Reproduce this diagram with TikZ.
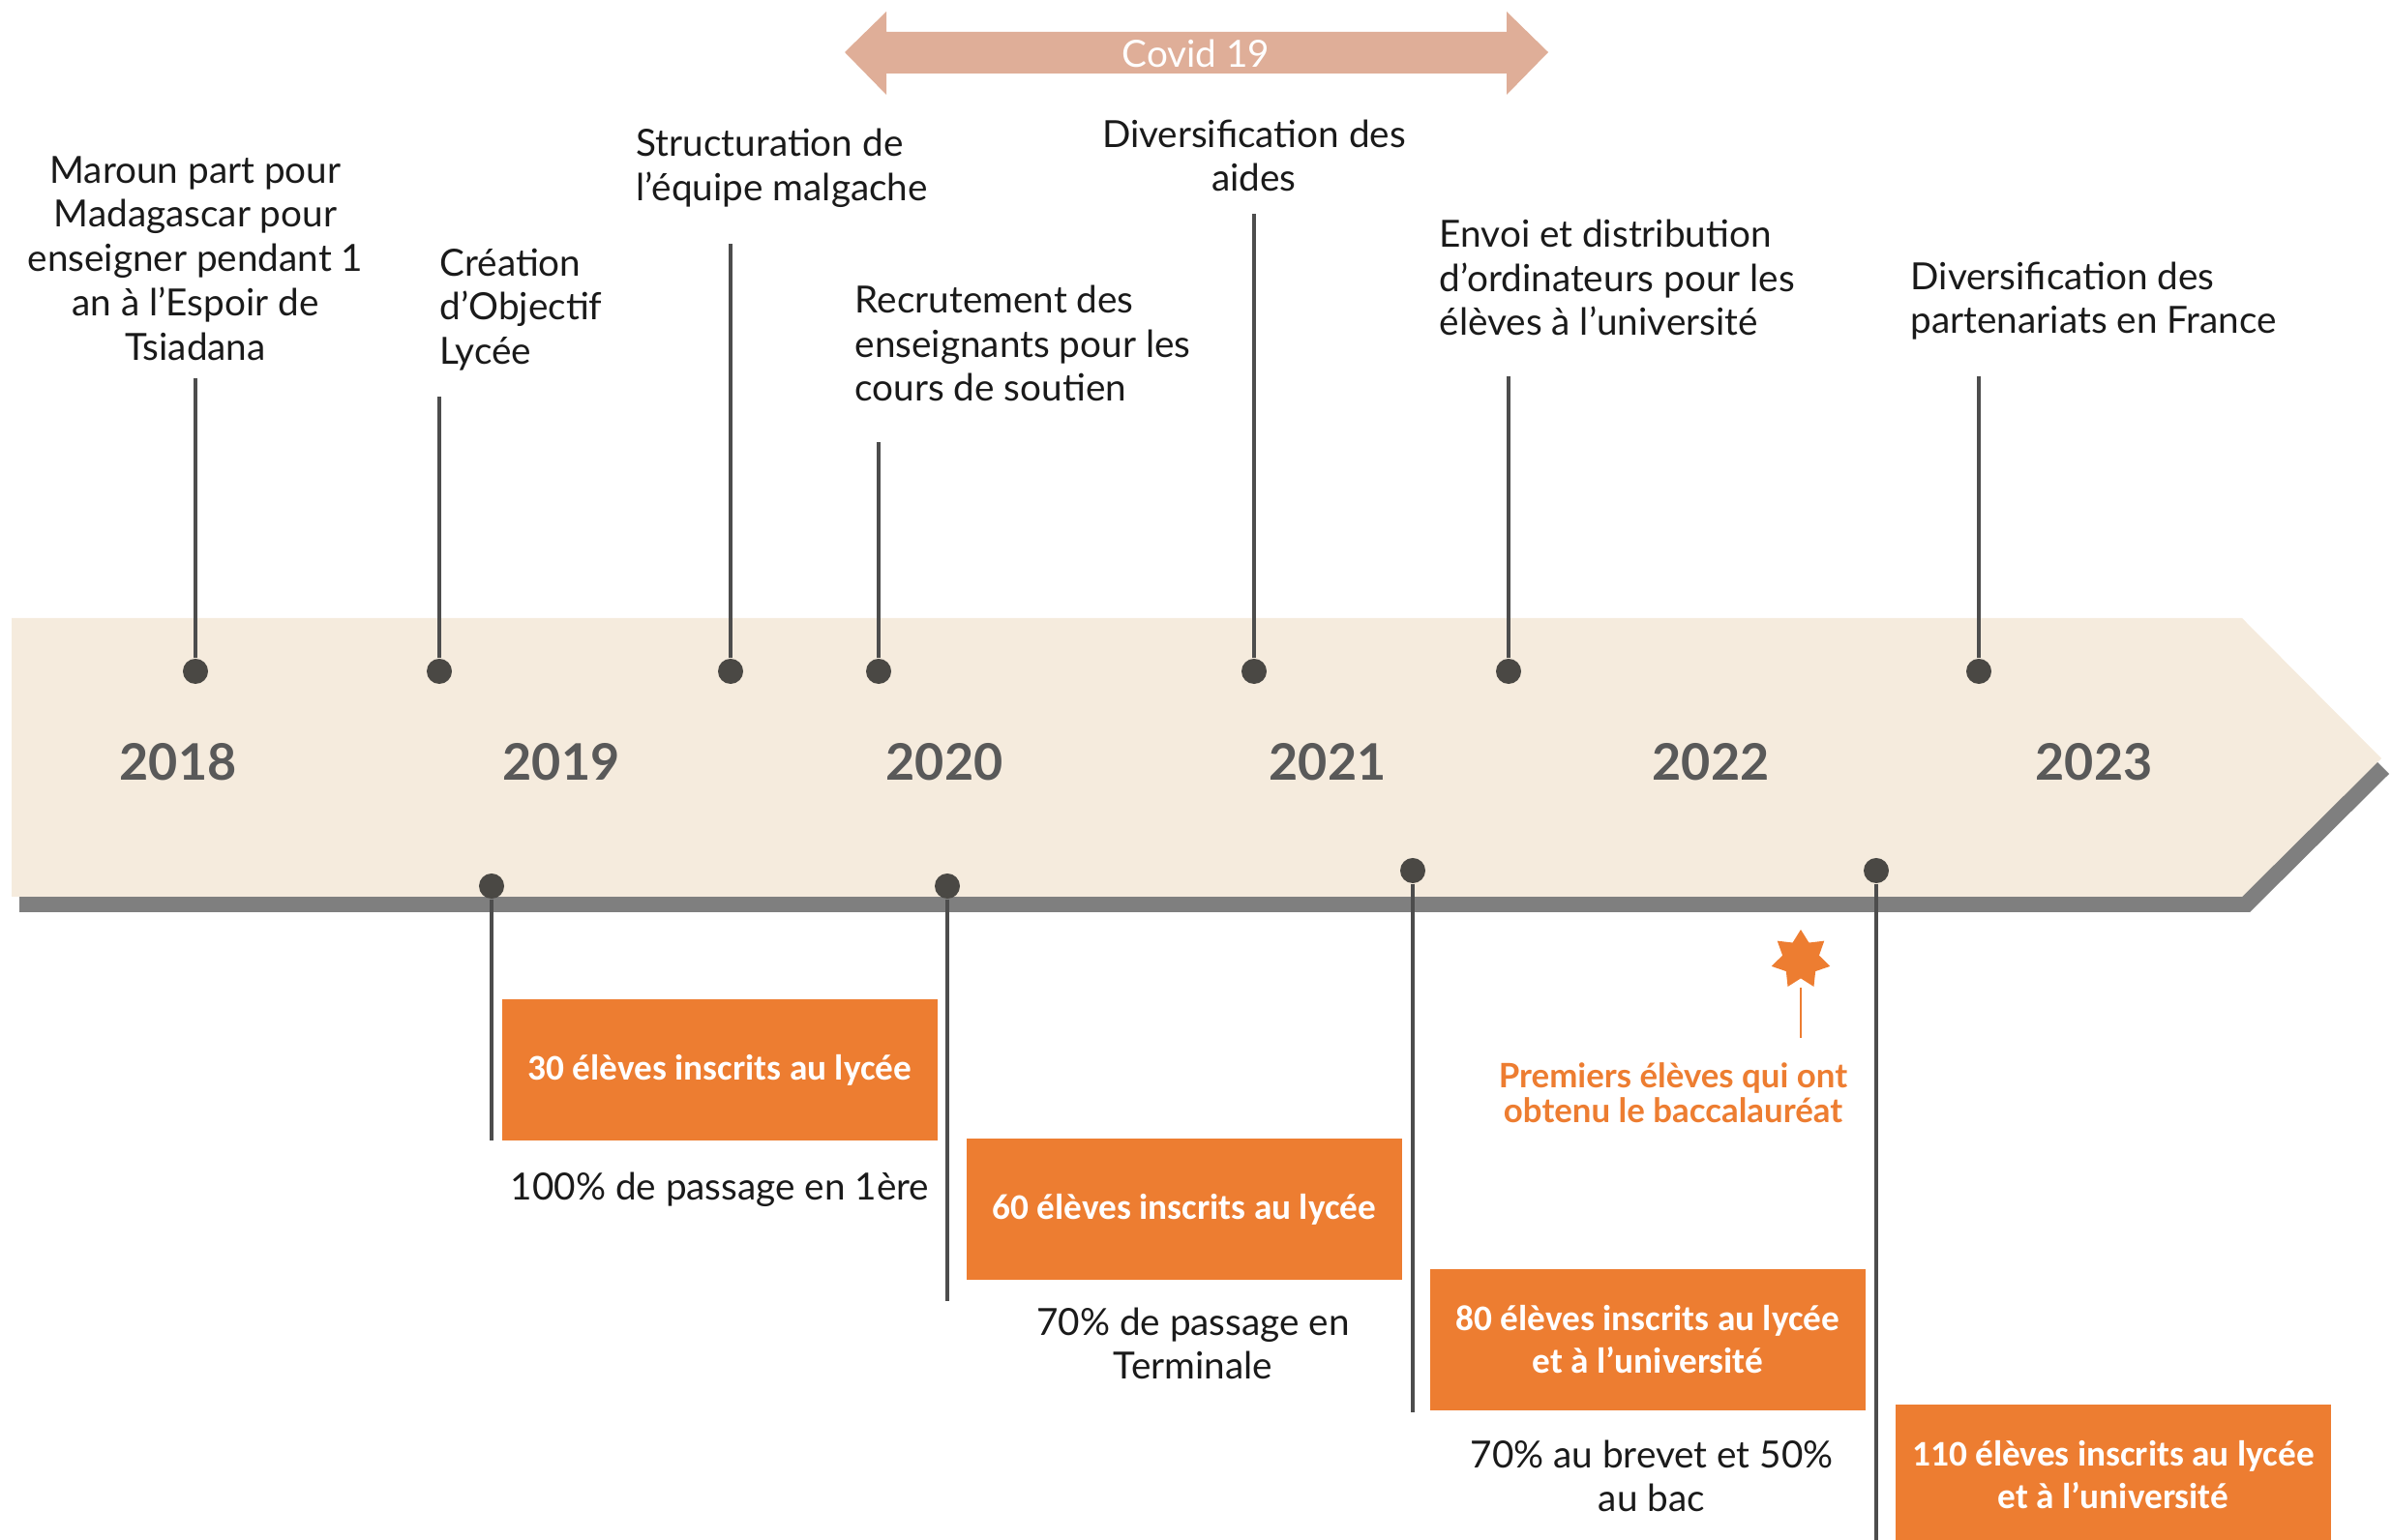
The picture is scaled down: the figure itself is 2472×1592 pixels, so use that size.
\documentclass[tikz,border=0pt]{standalone}
\usepackage{fontspec}
\setmainfont{Lato}
\newfontfamily\calibri{Carlito}
\usetikzlibrary{shapes.geometric}

\definecolor{bandbeige}{HTML}{F5EBDD}
\definecolor{shadowgray}{HTML}{7F7F7F}
\definecolor{dotgray}{HTML}{4A4844}
\definecolor{linegray}{HTML}{4D4D4D}
\definecolor{yeargray}{HTML}{595959}
\definecolor{txtblack}{HTML}{1A1A1A}
\definecolor{boxorange}{HTML}{ED7D31}
\definecolor{covidpink}{HTML}{DFAE98}

\tikzset{
    dot/.style={circle, fill=dotgray, inner sep=0pt, minimum size=0.26cm},
    stem/.style={draw=linegray, line width=0.9pt},
    event/.style={font=\fontsize{11}{13}\selectfont, text=txtblack, inner sep=0pt},
    year/.style={font=\fontsize{14.8}{16}\selectfont\bfseries, text=yeargray},
    numbox/.style={fill=boxorange, minimum width=4.5cm, minimum height=1.46cm, inner sep=0pt,
        align=center, text=white, font=\calibri\bfseries\fontsize{10.6}{12.5}\selectfont},
    bactext/.style={font=\fontsize{9.9}{10.2}\selectfont\bfseries, text=boxorange, align=center, inner sep=0pt}
}

\begin{document}
\begin{tikzpicture}[x=0.01cm, y=-0.01cm]
    \clip (0,0) rectangle (2472,1592);

    % Covid period
    \fill[covidpink] (873,54) -- (916,12) -- (916,33) -- (1557,33) -- (1557,12) -- (1600,54)
        -- (1557,98) -- (1557,76) -- (916,76) -- (916,98) -- cycle;
    \node[text=white, font=\fontsize{11}{13}\selectfont] (covid) at (1236,55) {Covid 19};

    % Draw the band and its shadow
    \fill[shadowgray] (20,655) -- (2325,655) -- (2469,800) -- (2325,943) -- (20,943) -- cycle;
    \fill[bandbeige] (12,639) -- (2317,639) -- (2461,784) -- (2317,927) -- (12,927) -- cycle;

    % Years
    \foreach \yr [count=\i from 0] in {2018,2019,2020,2021,2022,2023}
        \node[year] (y\yr) at (184+396*\i,788) {\yr};

    % Events above the band
    \foreach \n/\x/\t in {1/202/391, 2/454/410, 3/755/252, 4/908/457, 5/1296/221, 6/1559/389, 7/2045/389} {
        \node[dot] (d\n) at (\x,694) {};
        \coordinate (t\n) at (\x,\t);
        \draw[stem] (d\n) -- (t\n);
    }

    \node[event, align=center] (e1) at (202,267) {Maroun part pour\\Madagascar pour\\enseigner pendant 1\\an à l'Espoir de\\Tsiadana};
    \node[event, align=left, anchor=west] (e2) at (454,320) {Création\\d’Objectif\\Lycée};
    \node[event, align=left, anchor=west] (e3) at (657,174) {Structuration de\\l’équipe malgache};
    \node[event, align=left, anchor=west] (e4) at (883,355) {Recrutement des\\enseignants pour les\\cours de soutien};
    \node[event, align=center] (e5) at (1296,161) {Diversification des\\aides};
    \node[event, align=left, anchor=west] (e6) at (1487,287) {Envoi et distribution\\d’ordinateurs pour les\\élèves à l’université};
    \node[event, align=left, anchor=west] (e7) at (1974,311) {Diversification des\\partenariats en France};

    % Results below the band
    \foreach \n/\x/\y/\e in {1/508/916/1179, 2/979/916/1345, 3/1460/900/1460, 4/1939/900/1600} {
        \node[dot] (r\n) at (\x,\y) {};
        \coordinate (s\n) at (\x,\e);
        \draw[stem] (r\n) -- (s\n);
    }

    \node[numbox] (b1) at (744,1106) {30 élèves inscrits au lycée};
    \node[numbox] (b2) at (1224,1250) {60 élèves inscrits au lycée};
    \node[numbox] (b3) at (1703,1385) {80 élèves inscrits au lycée\\et à l’université};
    \node[numbox] (b4) at (2184,1525) {110 élèves inscrits au lycée\\et à l’université};

    \node[event, align=center] (p1) at (744,1230) {100\% de passage en 1ère};
    \node[event, align=center] (p2) at (1233,1389) {70\% de passage en\\Terminale};
    \node[event, align=center] (p3) at (1707,1526) {70\% au brevet et 50\%\\au bac};

    % First baccalaureate
    \node[star, star points=7, star point ratio=1.6, fill=boxorange, minimum size=0.62cm, inner sep=0pt] (bac) at (1861,992) {};
    \coordinate (baclow) at (1861,1073);
    \draw[boxorange, line width=0.5pt] ([yshift=-0.09cm]bac.south) -- (baclow);
    \node[bactext] (bacnote) at (1729,1130) {Premiers élèves qui ont\\obtenu le baccalauréat};
\end{tikzpicture}
\end{document}
